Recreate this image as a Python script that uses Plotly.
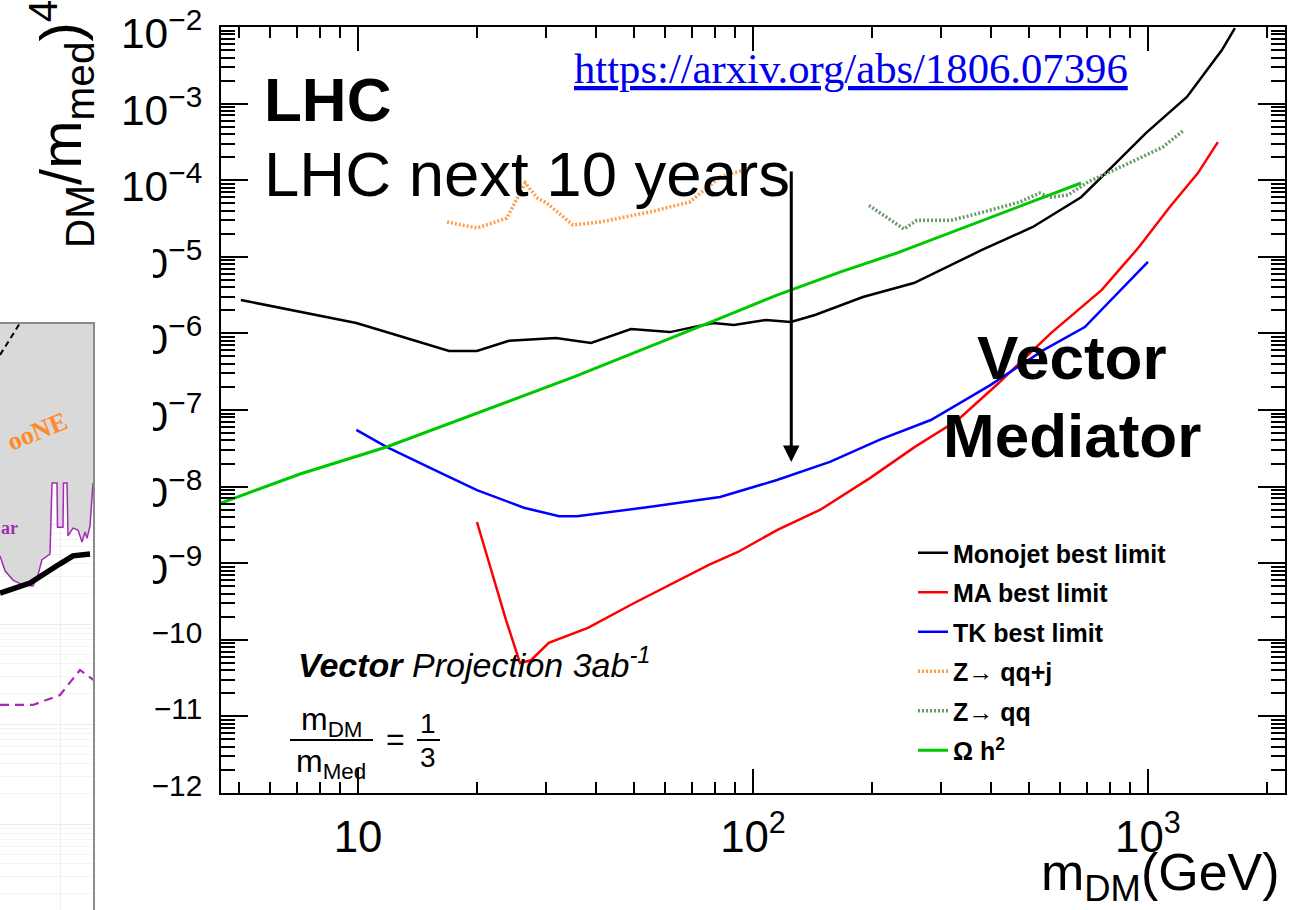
import numpy as np
import plotly.graph_objects as go

W, H = 1296, 910

# ---------------- main panel data (m_DM in GeV) ----------------
mono_m = [5.05, 7.13, 9.9, 12.8, 17.0, 20.0, 24.1, 31.7, 38.9, 49.1, 61.6, 79.2, 89.5,
          107.8, 124.7, 143.5, 189.8, 255.5, 380, 511, 677, 830, 988, 1255, 1539, 1660]
mono_y = [2.73e-6, 1.90e-6, 1.37e-6, 9.2e-7, 5.9e-7, 5.9e-7, 8.0e-7, 8.7e-7, 7.5e-7,
          1.14e-6, 1.04e-6, 1.37e-6, 1.29e-6, 1.50e-6, 1.41e-6, 1.74e-6, 2.99e-6,
          4.55e-6, 1.23e-5, 2.45e-5, 6.0e-5, 1.68e-4, 4.13e-4, 1.22e-3, 5.0e-3, 9.7e-3]

ma_m = [20.0, 21.7, 23.7, 25.7, 27.4, 30.4, 38.2, 49.9, 60.2, 77.3, 91.6, 115, 147.7,
        197.7, 257, 330, 419, 568, 764, 949, 1137, 1338, 1503]
ma_y = [3.45e-9, 8.1e-10, 1.81e-10, 4.98e-11, 5.4e-11, 9.1e-11, 1.43e-10, 3.0e-10,
        4.9e-10, 9.5e-10, 1.40e-9, 2.7e-9, 4.95e-9, 1.29e-8, 3.3e-8, 7.4e-8, 2.25e-7,
        1.01e-6, 3.7e-6, 1.34e-5, 4.5e-5, 1.24e-4, 3.15e-4]

tk_m = [9.9, 11.8, 15.6, 20.0, 26.3, 32.3, 35.8, 54.5, 82.5, 115, 156.6, 209.6, 282,
        398, 545, 692, 1000]
tk_y = [5.5e-8, 3.3e-8, 1.65e-8, 9.0e-9, 5.3e-9, 4.1e-9, 4.1e-9, 5.4e-9, 7.3e-9,
        1.22e-8, 2.1e-8, 4.1e-8, 7.4e-8, 2.1e-7, 6.1e-7, 1.21e-6, 8.6e-6]

zqqj_m = [16.8, 20.0, 23.8, 26.5, 28.4, 30.1, 35.0, 41.0, 54.8, 69.2, 82.5, 98.2]
zqqj_y = [2.85e-5, 2.38e-5, 3.2e-5, 9.2e-5, 5.9e-5, 5.0e-5, 2.6e-5, 2.85e-5, 3.85e-5,
          5.2e-5, 1.10e-4, 1.44e-4]

zqq_m = [196.6, 241, 260, 317, 373, 474, 532, 568, 627, 705, 932, 1091, 1233]
zqq_y = [4.7e-5, 2.31e-5, 3.0e-5, 3.0e-5, 3.7e-5, 5.2e-5, 6.8e-5, 6.0e-5, 6.4e-5,
         9.5e-5, 1.84e-4, 2.71e-4, 4.5e-4]

omega_m = [4.5, 7.13, 11.8, 20.4, 35.2, 77.3, 115, 166, 231, 545, 677]
omega_y = [6.1e-9, 1.46e-8, 3.29e-8, 9.4e-8, 2.70e-7, 1.37e-6, 3.17e-6, 6.3e-6,
           1.12e-5, 6.0e-5, 9.2e-5]

arrow_m = 125.0
arrow_y_start = 1.36e-4
arrow_y_end = 2.1e-8

# ---------------- partially visible left panel data ----------------
lp_purple_x = [0, 0.05, 0.13, 0.23, 0.33, 0.38, 0.42, 0.50, 0.52, 0.57, 0.575, 0.63,
               0.635, 0.67, 0.68, 0.73, 0.78, 0.82, 0.85, 0.87, 0.90, 0.93]
lp_purple_y = [4.8e-9, 3.4e-9, 2.75e-9, 2.45e-9, 2.4e-9, 3.1e-9, 4.4e-9, 5.0e-9, 2.57e-8,
               2.57e-8, 9.3e-9, 9.3e-9, 2.57e-8, 2.57e-8, 7.6e-9, 9.1e-9, 8.7e-9, 6.6e-9,
               8.3e-9, 7.2e-9, 9.5e-9, 2.57e-8]
lp_top_x = [0, 0.93]
lp_top_y = [1e-5, 1e-5]
lp_black_x = [0, 0.30, 0.60, 0.73, 0.90]
lp_black_y = [2.04e-9, 2.57e-9, 4.0e-9, 4.8e-9, 5.0e-9]
lp_dash_x = [0, 0.22]
lp_dash_y = [4.9e-7, 1.1e-6]
lp_pdash_x = [0, 0.33, 0.60, 0.80, 0.95]
lp_pdash_y = [1.55e-10, 1.55e-10, 1.95e-10, 3.47e-10, 2.69e-10]

SANS = "Liberation Sans, Arial, sans-serif"
SERIF = "Liberation Serif, Times New Roman, serif"


def X(px):
    return px / W


def Y(py):
    return 1 - py / H


fig = go.Figure()

series = [
    ("Monojet best limit", mono_m, mono_y, "black", 2.5, "solid"),
    ("MA best limit", ma_m, ma_y, "#ff0000", 2.5, "solid"),
    ("TK best limit", tk_m, tk_y, "#0000ff", 2.5, "solid"),
    ("Z\u2192 qq+j", zqqj_m, zqqj_y, "#ff9d4a", 3.5, "2px,2px"),
    ("Z\u2192 qq", zqq_m, zqq_y, "#6a9a6a", 3.5, "2px,2px"),
    ("\u03a9 h<sup>2</sup>", omega_m, omega_y, "#00c800", 3, "solid"),
]
for i, (name, xs, ys, col, wd, dash) in enumerate(series):
    fig.add_trace(go.Scatter(x=xs, y=ys, mode="lines", name=name, legendgroup=f"g{i}",
                             line=dict(color=col, width=wd, dash=dash),
                             xaxis="x", yaxis="y"))

# white cover (the overlapping left figure of the slide)
fig.add_trace(go.Scatter(x=[0, 1, 1, 0, 0], y=[0, 0, 1, 1, 0], mode="lines", fill="toself",
                         fillcolor="white", line=dict(width=0, color="white"),
                         xaxis="x2", yaxis="y2", showlegend=False, hoverinfo="skip"))

# left panel traces
fig.add_trace(go.Scatter(x=lp_top_x, y=lp_top_y, mode="lines", line=dict(width=0),
                         xaxis="x3", yaxis="y3", showlegend=False, hoverinfo="skip"))
fig.add_trace(go.Scatter(x=lp_purple_x, y=lp_purple_y, mode="lines", fill="tonexty",
                         fillcolor="#d9d9d9", line=dict(color="#a52ab5", width=1.5),
                         xaxis="x3", yaxis="y3", showlegend=False))
fig.add_trace(go.Scatter(x=lp_black_x, y=lp_black_y, mode="lines",
                         line=dict(color="black", width=5.5),
                         xaxis="x3", yaxis="y3", showlegend=False))
fig.add_trace(go.Scatter(x=lp_dash_x, y=lp_dash_y, mode="lines",
                         line=dict(color="black", width=2, dash="6px,4px"),
                         xaxis="x3", yaxis="y3", showlegend=False))
fig.add_trace(go.Scatter(x=lp_pdash_x, y=lp_pdash_y, mode="lines",
                         line=dict(color="#a52ab5", width=2.2, dash="9px,6px"),
                         xaxis="x3", yaxis="y3", showlegend=False))

xtickfont = dict(family=SANS, size=35, color="black")
ytickfont = dict(family=SANS, size=34, color="black")


def txt(text, px, py, size, xanchor="center", family=SANS, color="black", angle=0):
    return dict(text=text, x=X(px), y=Y(py), xref="paper", yref="paper",
                xanchor=xanchor, yanchor="middle", showarrow=False, textangle=angle,
                font=dict(family=family, size=size, color=color))


annotations = [
    txt("<sub>DM</sub>/m<sub>med</sub>)<sup>4</sup>", 62, 124, 58, angle=-90),
    txt("m<sub>DM</sub>(GeV)", 1282, 876, 52, xanchor="right"),
    txt("<b>LHC</b>", 262, 99, 62, xanchor="left"),
    txt("LHC next 10 years", 262, 174, 63.5, xanchor="left"),
    txt("<u>https://arxiv.org/abs/1806.07396</u>", 572, 69, 42.7, xanchor="left",
        family=SERIF, color="#0000ee"),
    txt("<b>Vector</b>", 1072, 358, 62),
    txt("<b>Mediator</b>", 1072, 435, 62),
    txt("<b><i>Vector</i></b><i> Projection 3ab<sup>-1</sup></i>", 296, 662, 34, xanchor="left"),
    txt("m<sub>DM</sub>", 331, 721, 32),
    txt("m<sub>Med</sub>", 331, 763, 32),
    txt("=", 395, 739, 32),
    txt("1", 428, 723, 28),
    txt("3", 428, 757, 28),
    txt("<b>ooNE</b>", 37, 431, 26, family=SERIF, color="#ff8a2a", angle=-22),
    txt("<b>ar</b>", 20, 528, 18, xanchor="right", family=SERIF, color="#a52ab5"),
    dict(x=np.log10(arrow_m), y=np.log10(arrow_y_end), ax=np.log10(arrow_m),
         ay=np.log10(arrow_y_start), xref="x", yref="y", axref="x", ayref="y",
         showarrow=True, arrowhead=2, arrowsize=1.1, arrowwidth=3, arrowcolor="black",
         text=""),
]

shapes = [
    dict(type="line", xref="paper", yref="paper", x0=X(290), x1=X(373), y0=Y(740), y1=Y(740),
         line=dict(color="black", width=2)),
    dict(type="line", xref="paper", yref="paper", x0=X(417), x1=X(440), y0=Y(740), y1=Y(740),
         line=dict(color="black", width=2)),
]

fig.update_layout(
    width=W, height=H, autosize=False, margin=dict(l=0, r=0, t=0, b=0, autoexpand=False),
    paper_bgcolor="white", plot_bgcolor="white",
    xaxis=dict(type="log", range=[0.653, 3.347], domain=[X(221), X(1285)], anchor="y",
               dtick=1, exponentformat="power", showline=True, linecolor="black",
               linewidth=2, mirror="ticks", ticks="inside", ticklen=24, tickwidth=1.5,
               tickcolor="black", tickfont=xtickfont, ticklabelstandoff=6,
               ticklabeloverflow="allow",
               showgrid=False, zeroline=False, automargin=False,
               minor=dict(ticks="inside", ticklen=11, tickwidth=1.5, tickcolor="black",
                          dtick="D1", showgrid=False)),
    yaxis=dict(type="log", range=[-12.0005, -1.9995], domain=[Y(793), Y(27)], anchor="x",
               dtick=1, exponentformat="power", showline=True, linecolor="black",
               linewidth=2, mirror="ticks", ticks="inside", ticklen=27, tickwidth=1.5,
               tickcolor="black", tickfont=ytickfont, ticklabelstandoff=10,
               ticklabelshift=6, ticklabeloverflow="allow",
               showgrid=False, zeroline=False, automargin=False,
               minor=dict(ticks="inside", ticklen=14, tickwidth=1.5, tickcolor="black",
                          dtick="D1", showgrid=False)),
    xaxis2=dict(domain=[0, X(153)], range=[0, 1], anchor="y2", visible=False, fixedrange=True),
    yaxis2=dict(domain=[0, Y(247)], range=[0, 1], anchor="x2", visible=False, fixedrange=True),
    xaxis3=dict(domain=[0, X(93)], range=[0, 0.93], anchor="y3", side="top", showline=True,
                linecolor="#8a8a8a", linewidth=1.5, ticks="", showticklabels=False,
                tickmode="array", tickvals=[0.6], showgrid=True, gridcolor="#eeeeee",
                zeroline=False),
    yaxis3=dict(domain=[0, Y(324)], type="log", range=[-11.86, -6], anchor="x3", side="right",
                showline=True, linecolor="#8a8a8a", linewidth=1.5, ticks="",
                showticklabels=False, dtick=1, showgrid=True, gridcolor="#ededed",
                zeroline=False, minor=dict(showgrid=True, gridcolor="#f4f4f4", dtick="D1")),
    legend=dict(x=X(913), y=Y(530), xanchor="left", yanchor="top",
                font=dict(family=SANS, size=25, color="black", weight="bold"),
                bgcolor="rgba(0,0,0,0)", borderwidth=0, tracegroupgap=4,
                traceorder="grouped", itemwidth=30),
    annotations=annotations,
    shapes=shapes,
)

fig.write_html("out.html", config={"responsive": False})
